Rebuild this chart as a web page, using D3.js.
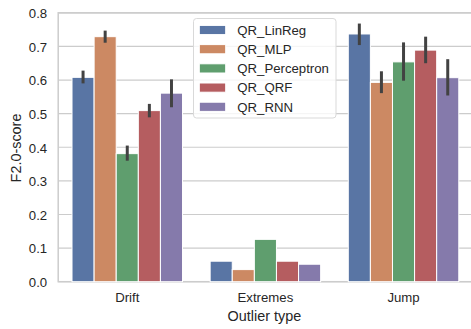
<!DOCTYPE html>
<html>
<head>
<meta charset="utf-8">
<script src="https://cdn.jsdelivr.net/npm/d3@7"></script>
<style>
  html, body { margin: 0; padding: 0; background: #fff; }
  svg { display: block; font-family: "Liberation Sans", Arial, sans-serif; }
</style>
</head>
<body>
<svg id="chart" width="471" height="329"></svg>
<script>
const categories = ["Drift", "Extremes", "Jump"];
const seriesNames = ["QR_LinReg", "QR_MLP", "QR_Perceptron", "QR_QRF", "QR_RNN"];
const colors = ["#5975a4", "#cc8963", "#5f9e6e", "#b55d60", "#857aab"];

// mean values per series, in category order (Drift, Extremes, Jump)
const QR_LinReg     = [0.608, 0.061, 0.737];
const QR_MLP        = [0.729, 0.036, 0.593];
const QR_Perceptron = [0.381, 0.126, 0.654];
const QR_QRF        = [0.509, 0.061, 0.689];
const QR_RNN        = [0.561, 0.052, 0.607];

// confidence interval bounds (null = no visible error bar)
const QR_LinReg_lo     = [0.590, null, 0.704];
const QR_LinReg_hi     = [0.628, null, 0.768];
const QR_MLP_lo        = [0.711, null, 0.561];
const QR_MLP_hi        = [0.747, null, 0.626];
const QR_Perceptron_lo = [0.360, null, 0.598];
const QR_Perceptron_hi = [0.405, null, 0.712];
const QR_QRF_lo        = [0.489, null, 0.650];
const QR_QRF_hi        = [0.529, null, 0.729];
const QR_RNN_lo        = [0.519, null, 0.554];
const QR_RNN_hi        = [0.602, null, 0.662];

const yTicks = [0.0, 0.1, 0.2, 0.3, 0.4, 0.5, 0.6, 0.7, 0.8];
const xLabel = "Outlier type";
const yLabel = "F2.0-score";

const valueSets = [QR_LinReg, QR_MLP, QR_Perceptron, QR_QRF, QR_RNN];
const loSets = [QR_LinReg_lo, QR_MLP_lo, QR_Perceptron_lo, QR_QRF_lo, QR_RNN_lo];
const hiSets = [QR_LinReg_hi, QR_MLP_hi, QR_Perceptron_hi, QR_QRF_hi, QR_RNN_hi];

const rows = [];
categories.forEach((c, ci) => {
  seriesNames.forEach((s, si) => {
    rows.push({cat: c, series: s, si: si, value: valueSets[si][ci], lo: loSets[si][ci], hi: hiSets[si][ci]});
  });
});

const svg = d3.select("#chart");
const pLeft = 58.2, pRight = 472.6, pTop = 12.8, pBottom = 281.7;

const x = d3.scaleBand().domain(categories).range([pLeft, pRight]).paddingInner(0.2).paddingOuter(0.1);
const xs = d3.scaleBand().domain(seriesNames).range([0, x.bandwidth()]);
const y = d3.scaleLinear().domain([0, 0.8]).range([pBottom, pTop]);

// gridlines
svg.append("g").selectAll("line").data(yTicks).join("line")
  .attr("x1", pLeft).attr("x2", pRight)
  .attr("y1", d => y(d)).attr("y2", d => y(d))
  .attr("stroke", "#cccccc").attr("stroke-width", 1.2);

// spines
svg.append("rect").attr("x", pLeft).attr("y", pTop).attr("width", pRight - pLeft).attr("height", pBottom - pTop)
  .attr("fill", "none").attr("stroke", "#cccccc").attr("stroke-width", 1.5);

// bars
svg.append("g").selectAll("rect").data(rows).join("rect")
  .attr("x", d => x(d.cat) + xs(d.series))
  .attr("width", xs.bandwidth())
  .attr("y", d => y(d.value))
  .attr("height", d => y(0) - y(d.value))
  .attr("fill", d => colors[d.si])
  .attr("stroke", "#ffffff").attr("stroke-width", 1);

// error bars
svg.append("g").selectAll("line").data(rows.filter(d => d.lo !== null)).join("line")
  .attr("x1", d => x(d.cat) + xs(d.series) + xs.bandwidth() / 2)
  .attr("x2", d => x(d.cat) + xs(d.series) + xs.bandwidth() / 2)
  .attr("y1", d => y(d.lo)).attr("y2", d => y(d.hi))
  .attr("stroke", "#424242").attr("stroke-width", 3);

// y axis tick labels
const yAxis = d3.axisLeft(y).tickValues(yTicks).tickFormat(d3.format(".1f")).tickSize(0).tickPadding(11);
const ya = svg.append("g").attr("transform", `translate(${pLeft},0)`).call(yAxis);
ya.select(".domain").remove();
ya.selectAll("text").attr("font-size", 13.2).attr("fill", "#262626")
  .attr("font-family", "Liberation Sans, Arial, sans-serif").attr("dy", "0.36em");

// x axis tick labels
const xAxis = d3.axisBottom(x).tickSize(0).tickPadding(11);
const xa = svg.append("g").attr("transform", `translate(0,${pBottom})`).call(xAxis);
xa.select(".domain").remove();
xa.selectAll("text").attr("font-size", 13.2).attr("fill", "#262626")
  .attr("font-family", "Liberation Sans, Arial, sans-serif");

// axis labels
svg.append("text").attr("x", (pLeft + pRight) / 2 - 1).attr("y", 321)
  .attr("text-anchor", "middle").attr("font-size", 14.4).attr("fill", "#262626").text(xLabel);
svg.append("text").attr("transform", `translate(21,148) rotate(-90)`)
  .attr("text-anchor", "middle").attr("font-size", 14.4).attr("fill", "#262626").text(yLabel);

// legend
const lg = svg.append("g");
lg.append("rect").attr("x", 193.5).attr("y", 18.5).attr("width", 142.5).attr("height", 99.5)
  .attr("rx", 3).attr("fill", "#ffffff").attr("fill-opacity", 0.8)
  .attr("stroke", "#d9d9d9").attr("stroke-width", 1);
const items = lg.selectAll("g.item").data(seriesNames).join("g").attr("class", "item")
  .attr("transform", (d, i) => `translate(199.3,${30 + i * 19.2})`);
items.append("rect").attr("x", 0).attr("y", -4.6).attr("width", 26.4).attr("height", 9.2)
  .attr("fill", (d, i) => colors[i]).attr("stroke", "#ffffff").attr("stroke-width", 1);
items.append("text").attr("x", 38).attr("y", 0).attr("dy", "0.36em")
  .attr("font-size", 13.2).attr("fill", "#262626").text(d => d);
</script>
</body>
</html>
